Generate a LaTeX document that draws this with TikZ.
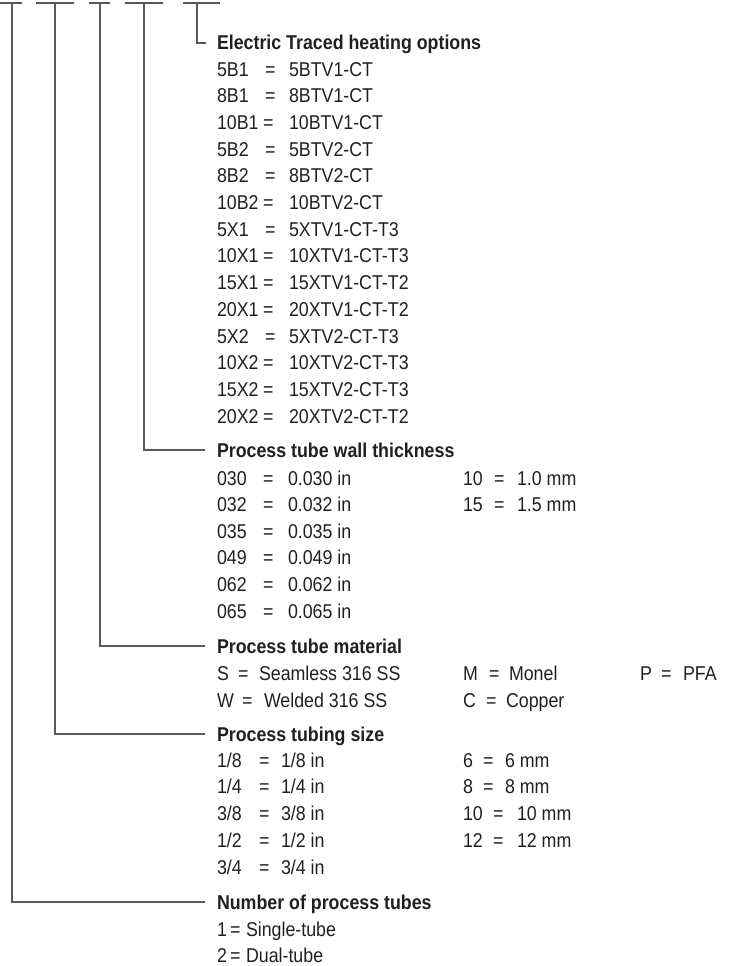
\documentclass[tikz,border=0pt]{standalone}
\usepackage{fontspec}
\setmainfont{Liberation Sans}[FakeStretch=0.89]
\definecolor{ink}{RGB}{35,31,32}
\definecolor{rule}{RGB}{88,89,91}
\tikzset{
  txt/.style={inner sep=0pt, outer sep=0pt, anchor=base west, text height=14.3pt, text depth=0pt,
              text=ink, font=\fontsize{20pt}{24pt}\selectfont},
  head/.style={txt, font=\fontsize{20pt}{24pt}\selectfont\bfseries},
  ln/.style={draw=rule, line width=1.6pt},
}
% name, y-centre, x-code, code, x-eq, x-value, value
\newcommand\coderow[7]{%
  \node[txt] (#1a) at (#3,#2+7) {#4};
  \node[txt] (#1b) at (#5,#2+7) {=};
  \node[txt] (#1c) at (#6,#2+7) {#7};}
\begin{document}
\begin{tikzpicture}[x=1pt,y=-1pt]
\useasboundingbox (0,0) rectangle (748,966);

% ---- headings
\node[head] (h5) at (217,43+7) {Electric Traced heating options};
\node[head] (h4) at (217,450+7) {Process tube wall thickness};
\node[head] (h3) at (217,646+7) {Process tube material};
\node[head] (h2) at (217,734+7) {Process tubing size};
\node[head] (h1) at (217,902+7) {Number of process tubes};

% ---- electric traced heating options
\coderow{e1}{69}{217}{5B1}{265}{289}{5BTV1-CT}
\coderow{e2}{95.7}{217}{8B1}{265}{289}{8BTV1-CT}
\coderow{e3}{122.4}{217}{10B1}{263}{289}{10BTV1-CT}
\coderow{e4}{149.1}{217}{5B2}{265}{289}{5BTV2-CT}
\coderow{e5}{175.8}{217}{8B2}{265}{289}{8BTV2-CT}
\coderow{e6}{202.5}{217}{10B2}{263}{289}{10BTV2-CT}
\coderow{e7}{229.2}{217}{5X1}{265}{289}{5XTV1-CT-T3}
\coderow{e8}{255.9}{217}{10X1}{263}{289}{10XTV1-CT-T3}
\coderow{e9}{282.6}{217}{15X1}{263}{289}{15XTV1-CT-T2}
\coderow{e10}{309.3}{217}{20X1}{263}{289}{20XTV1-CT-T2}
\coderow{e11}{336}{217}{5X2}{265}{289}{5XTV2-CT-T3}
\coderow{e12}{362.7}{217}{10X2}{263}{289}{10XTV2-CT-T3}
\coderow{e13}{389.4}{217}{15X2}{263}{289}{15XTV2-CT-T3}
\coderow{e14}{416.1}{217}{20X2}{263}{289}{20XTV2-CT-T2}

% ---- wall thickness
\coderow{w1}{478}{217}{030}{263}{288}{0.030 in}
\coderow{w2}{504.6}{217}{032}{263}{288}{0.032 in}
\coderow{w3}{531.2}{217}{035}{263}{288}{0.035 in}
\coderow{w4}{557.8}{217}{049}{263}{288}{0.049 in}
\coderow{w5}{584.4}{217}{062}{263}{288}{0.062 in}
\coderow{w6}{611}{217}{065}{263}{288}{0.065 in}
\coderow{wm1}{478}{463}{10}{494}{517}{1.0 mm}
\coderow{wm2}{504.6}{463}{15}{494}{517}{1.5 mm}

% ---- material
\coderow{m1}{673}{217}{S}{238}{259}{Seamless 316 SS}
\coderow{m2}{700}{217}{W}{242}{264}{Welded 316 SS}
\coderow{m3}{673}{463}{M}{489}{509}{Monel}
\coderow{m4}{700}{463}{C}{486}{506}{Copper}
\coderow{m5}{673}{640}{P}{661}{683}{PFA}

% ---- tubing size
\coderow{s1}{760}{217}{1/8}{259}{281}{1/8 in}
\coderow{s2}{786.8}{217}{1/4}{259}{281}{1/4 in}
\coderow{s3}{813.6}{217}{3/8}{259}{281}{3/8 in}
\coderow{s4}{840.4}{217}{1/2}{259}{281}{1/2 in}
\coderow{s5}{867.2}{217}{3/4}{259}{281}{3/4 in}
\coderow{sm1}{760}{463}{6}{483}{505}{6 mm}
\coderow{sm2}{786.8}{463}{8}{483}{505}{8 mm}
\coderow{sm3}{813.6}{463}{10}{493}{517}{10 mm}
\coderow{sm4}{840.4}{463}{12}{493}{517}{12 mm}

% ---- number of tubes
\coderow{n1}{929}{217}{1}{230}{246}{Single-tube}
\coderow{n2}{955}{217}{2}{230}{246}{Dual-tube}

% ---- brackets
\coordinate (b1l) at (0,3);   \coordinate (b1r) at (22,3);  \coordinate (b1m) at (12,3);
\coordinate (b2l) at (36,3);  \coordinate (b2r) at (74,3);  \coordinate (b2m) at (55,3);
\coordinate (b3l) at (89,3);  \coordinate (b3r) at (110,3); \coordinate (b3m) at (100,3);
\coordinate (b4l) at (125,3); \coordinate (b4r) at (163,3); \coordinate (b4m) at (144,3);
\coordinate (b5l) at (183,3); \coordinate (b5r) at (220,3); \coordinate (b5m) at (197,3);

\draw[ln] (b1l) -- (b1r);
\draw[ln] (b2l) -- (b2r);
\draw[ln] (b3l) -- (b3r);
\draw[ln] (b4l) -- (b4r);
\draw[ln] (b5l) -- (b5r);

\draw[ln] (b1m) |- ([xshift=-12pt]h1.west);
\draw[ln] (b2m) |- ([xshift=-12pt]h2.west);
\draw[ln] (b3m) |- ([xshift=-12pt]h3.west);
\draw[ln] (b4m) |- ([xshift=-12pt]h4.west);
\draw[ln] (b5m) |- ([xshift=-11pt]h5.west);
\end{tikzpicture}
\end{document}
